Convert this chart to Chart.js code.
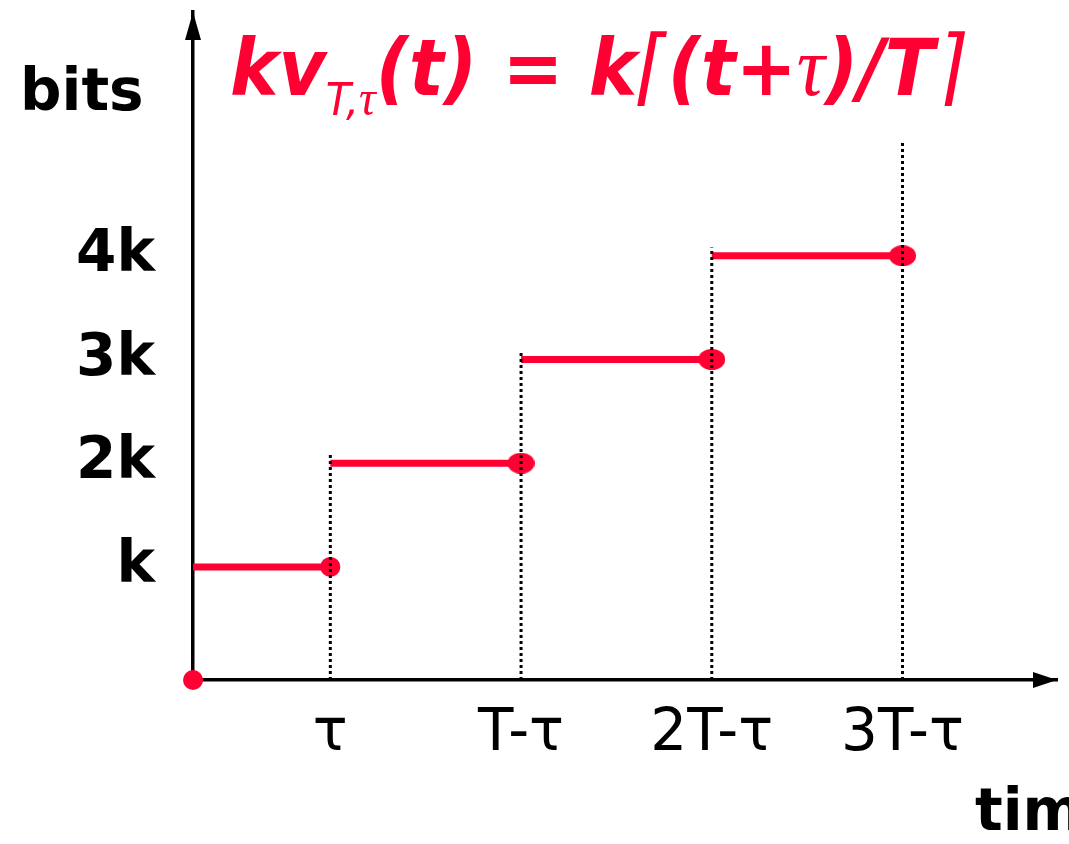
<!DOCTYPE html>
<html>
<head>
<meta charset="utf-8">
<script src="https://cdn.jsdelivr.net/npm/chart.js@4"></script>
<style>
  html, body { margin: 0; padding: 0; background: #fff; }
  #wrap { width: 1069px; height: 844px; position: relative; }
</style>
</head>
<body>
<div id="wrap"><canvas id="stepChart"></canvas></div>
<script>
// step boundaries on the time axis (in units of T) and their labels
const timeTicks = [0.72, 1.72, 2.72, 3.72];
const timeLabels = ["τ", "T-τ", "2T-τ", "3T-τ"];
// bit levels reached by each step (in units of k)
const bitLevels = [1, 2, 3, 4];
const bitLabels = ["k", "2k", "3k", "4k"];
// how high each dotted guide climbs
const guideTops = [2.08, 3.07, 4.08, 5.1];

const RED = "#ff0033";
const X_MAX = 4.53;
const Y_MIN = -0.09;
const Y_MAX = 6.35;

// slightly flattened end dot
function makeDot(w, h) {
    const c = document.createElement("canvas");
    c.width = w;
    c.height = h;
    const g = c.getContext("2d");
    g.fillStyle = RED;
    g.beginPath();
    g.ellipse(w / 2, h / 2, w / 2, h / 2, 0, 0, Math.PI * 2);
    g.fill();
    return c;
}
const wideDot = makeDot(27, 21);

// one horizontal piece per step, closed dot at its right end
const stepSets = bitLevels.map((lvl, i) => ({
    data: [
        { x: i === 0 ? 0 : timeTicks[i - 1], y: lvl },
        { x: timeTicks[i], y: lvl }
    ],
    borderColor: RED,
    backgroundColor: RED,
    borderWidth: 7,
    pointStyle: i === 0 ? "circle" : wideDot,
    pointRadius: [0, 10],
    pointBorderWidth: 0,
    clip: false,
    order: 2
}));

const guideSets = timeTicks.map((t, i) => ({
    data: [{ x: t, y: Y_MIN }, { x: t, y: guideTops[i] }],
    borderColor: "#000",
    borderWidth: 3,
    borderDash: [3, 3],
    pointRadius: 0,
    order: 1
}));

const originSet = {
    data: [{ x: 0, y: Y_MIN }],
    backgroundColor: RED,
    borderWidth: 0,
    pointRadius: 10,
    showLine: false,
    clip: false,
    order: 0
};

// formula text, drawn piece by piece so the subscript can drop
const titleParts = [
    { t: "kv", f: "italic bold 78px 'DejaVu Sans'", dy: 0 },
    { t: "T,", f: "italic 44px 'DejaVu Sans'", dy: 20 },
    { t: "τ", f: "italic 50px 'Liberation Serif'", dy: 20 },
    { t: "(t) = k", f: "italic bold 78px 'DejaVu Sans'", dy: 0 },
    { t: "⌈", f: "italic 84px 'DejaVu Sans'", dy: 0 },
    { t: "(t+", f: "italic bold 78px 'DejaVu Sans'", dy: 0 },
    { t: "τ", f: "italic 84px 'Liberation Serif'", dy: 0 },
    { t: ")/T", f: "italic bold 78px 'DejaVu Sans'", dy: 0 },
    { t: "⌉", f: "italic 84px 'DejaVu Sans'", dy: 0 }
];

const decorPlugin = {
    id: "decor",
    afterDraw(chart) {
        const { ctx, chartArea: a } = chart;
        ctx.save();

        // arrow heads on both axes
        ctx.fillStyle = "#000";
        ctx.beginPath();
        ctx.moveTo(a.left, a.top);
        ctx.lineTo(a.left - 8, a.top + 28);
        ctx.lineTo(a.left + 8, a.top + 28);
        ctx.closePath();
        ctx.fill();
        ctx.beginPath();
        ctx.moveTo(a.right, a.bottom);
        ctx.lineTo(a.right - 24, a.bottom - 8);
        ctx.lineTo(a.right - 24, a.bottom + 8);
        ctx.closePath();
        ctx.fill();

        // axis names
        ctx.font = "bold 58px 'DejaVu Sans'";
        ctx.textBaseline = "middle";
        ctx.textAlign = "left";
        ctx.fillText("bits", 20, 95);
        ctx.fillText("time", 975, 815);

        // formula, squeezed a little to keep its width
        ctx.fillStyle = RED;
        ctx.textBaseline = "alphabetic";
        let w = 0;
        titleParts.forEach(p => { ctx.font = p.f; w += ctx.measureText(p.t).width; });
        const sx = 735 / w;
        ctx.translate(230, 0);
        ctx.scale(sx, 1);
        let x = 0;
        titleParts.forEach(p => {
            ctx.font = p.f;
            ctx.fillText(p.t, x, 95 + p.dy);
            x += ctx.measureText(p.t).width;
        });

        ctx.restore();
    }
};

const ctx = document.getElementById("stepChart").getContext("2d");

new Chart(ctx, {
    type: "line",
    data: { datasets: [...stepSets, ...guideSets, originSet] },
    options: {
        responsive: true,
        maintainAspectRatio: false,
        animation: false,
        layout: { padding: { top: 12, right: 12, left: 0, bottom: 0 } },
        plugins: { legend: { display: false }, tooltip: { enabled: false } },
        scales: {
            x: {
                type: "linear",
                min: 0,
                max: X_MAX,
                grid: { display: false, drawTicks: false },
                border: { display: true, color: "#000", width: 3.5 },
                afterBuildTicks: s => { s.ticks = timeTicks.map(v => ({ value: v })); },
                afterFit: s => { s.height = 164; s.paddingLeft = 0; s.paddingRight = 0; },
                ticks: {
                    callback: (v, i) => timeLabels[i],
                    color: "#000",
                    font: { family: "DejaVu Sans", size: 58 },
                    padding: 20,
                    maxRotation: 0,
                    autoSkip: false
                }
            },
            y: {
                type: "linear",
                min: Y_MIN,
                max: Y_MAX,
                grid: { display: false, drawTicks: false },
                border: { display: true, color: "#000", width: 3.5 },
                afterBuildTicks: s => { s.ticks = bitLevels.map(v => ({ value: v })); },
                afterFit: s => { s.width = 193; s.paddingTop = 0; s.paddingBottom = 0; },
                ticks: {
                    callback: (v, i) => bitLabels[i],
                    color: "#000",
                    font: { family: "DejaVu Sans", size: 58, weight: "bold" },
                    padding: 38,
                    autoSkip: false
                }
            }
        }
    },
    plugins: [decorPlugin]
});
</script>
</body>
</html>
